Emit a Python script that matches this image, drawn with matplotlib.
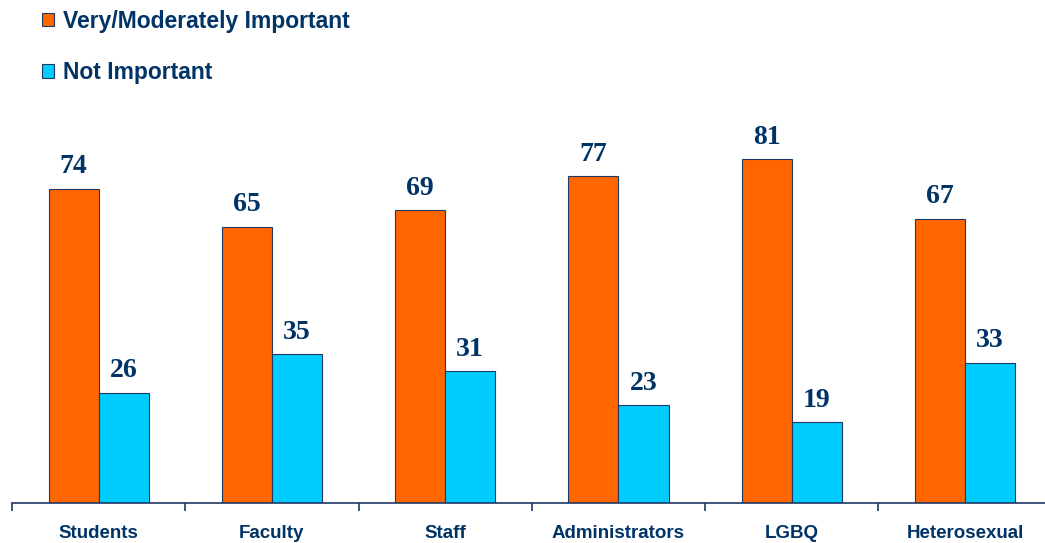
import numpy as np
import matplotlib.pyplot as plt
from matplotlib.patches import Patch

categories = ['Students', 'Faculty', 'Staff', 'Administrators', 'LGBQ', 'Heterosexual']
important = [74, 65, 69, 77, 81, 67]
not_important = [26, 35, 31, 23, 19, 33]
series_names = ['Very/Moderately Important', 'Not Important']

navy = '#003366'
orange = '#FF6600'
cyan = '#00CCFF'
edge = '#1F3864'

fig = plt.figure(figsize=(10.45, 5.43), dpi=100)
ax = fig.add_axes([12 / 1045, 40 / 543, 1039.6 / 1045, 424.3 / 543])

x = np.arange(len(categories))
w = 0.289
b1 = ax.bar(x - w / 2, important, w, color=orange, edgecolor=edge, linewidth=0.8)
b2 = ax.bar(x + w / 2, not_important, w, color=cyan, edgecolor=edge, linewidth=0.8)

for bars in (b1, b2):
    ax.bar_label(bars, padding=7, fontsize=20, fontweight='bold',
                 family='Liberation Serif', color=navy)

ax.set_xlim(-0.5, len(categories) - 0.5)
ax.set_ylim(0, 100)
for s in ['top', 'right', 'left']:
    ax.spines[s].set_visible(False)
ax.spines['bottom'].set_color(edge)
ax.spines['bottom'].set_linewidth(1.2)
ax.set_yticks([])

ax.set_xticks(x)
ax.set_xticklabels(categories, fontsize=13.5, fontweight='bold',
                   family='Liberation Sans', color=navy)
ax.tick_params(axis='x', which='major', length=0, pad=16)
ax.set_xticks(np.arange(len(categories) + 1) - 0.5, minor=True)
ax.tick_params(axis='x', which='minor', length=6, color=edge, width=1.2)

handles = [Patch(facecolor=orange, edgecolor=edge, linewidth=0.8),
           Patch(facecolor=cyan, edgecolor=edge, linewidth=0.8)]
leg = fig.legend(handles, series_names, loc='upper left',
                 bbox_to_anchor=(21 / 1045, 1 + 11 / 543), frameon=False,
                 prop={'family': 'Liberation Sans', 'weight': 'bold', 'size': 16.5},
                 handlelength=0.55, handleheight=0.55, handletextpad=0.4,
                 labelspacing=1.25)
for t in leg.get_texts():
    t.set_color(navy)

plt.savefig('out.png', dpi=100)
